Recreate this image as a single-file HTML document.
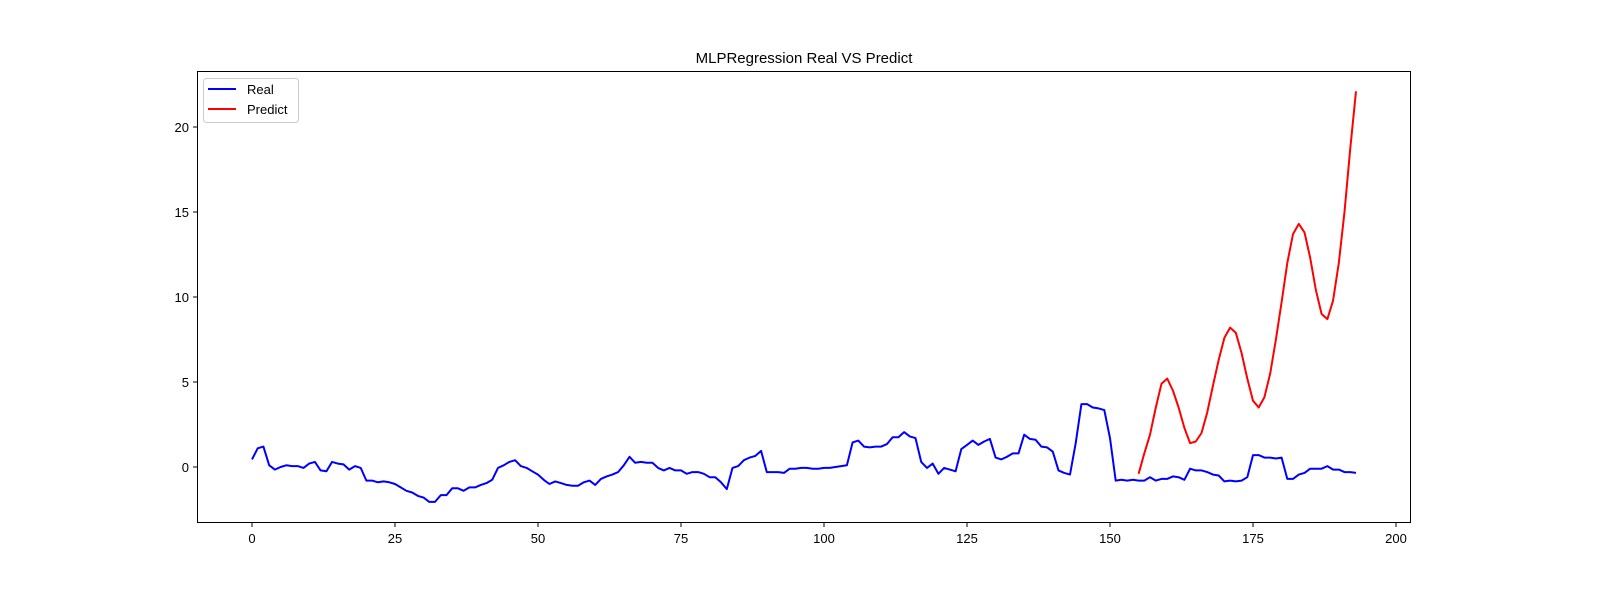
<!DOCTYPE html>
<html><head><meta charset="utf-8"><style>
html,body{margin:0;padding:0;background:#fff;width:1600px;height:600px;overflow:hidden;}
svg{display:block;}
svg text{font-family:"Liberation Sans","DejaVu Sans",sans-serif;}
</style></head><body>
<svg id="chart" width="1600" height="600" xmlns="http://www.w3.org/2000/svg">
<rect width="1600" height="600" fill="#fff"/>
<text x="804" y="63" font-size="15" text-anchor="middle">MLPRegression Real VS Predict</text>
<g id="ticks"></g>
<g id="lines"></g>
<rect x="197.5" y="71.5" width="1213" height="451" fill="none" stroke="#000" stroke-width="1"/>
<g>
<rect x="203.5" y="78.5" width="95" height="44" rx="3" fill="#fff" stroke="#ccc"/>
<line x1="208" y1="89" x2="236" y2="89" stroke="#0000ff" stroke-width="2"/>
<text x="247" y="94" font-size="13">Real</text>
<line x1="208" y1="109" x2="236" y2="109" stroke="#ff0000" stroke-width="2"/>
<text x="247" y="114" font-size="13">Predict</text>
</g>
</svg>
<script>
const realValues=[0.45,1.1,1.2,0.1,-0.15,0,0.1,0.05,0.05,-0.05,0.2,0.3,-0.2,-0.25,0.3,0.2,0.15,-0.15,0.05,-0.05,-0.8,-0.8,-0.9,-0.85,-0.9,-1.0,-1.2,-1.4,-1.5,-1.7,-1.8,-2.05,-2.05,-1.65,-1.65,-1.25,-1.25,-1.4,-1.2,-1.2,-1.05,-0.95,-0.75,-0.05,0.1,0.3,0.4,0.05,-0.05,-0.25,-0.45,-0.75,-1.0,-0.85,-0.95,-1.05,-1.1,-1.1,-0.9,-0.8,-1.05,-0.7,-0.55,-0.45,-0.3,0.1,0.6,0.25,0.3,0.25,0.25,-0.05,-0.2,-0.05,-0.2,-0.2,-0.4,-0.3,-0.3,-0.4,-0.6,-0.6,-0.9,-1.3,-0.05,0.05,0.4,0.55,0.65,0.95,-0.3,-0.3,-0.3,-0.35,-0.1,-0.1,-0.05,-0.05,-0.1,-0.1,-0.05,-0.05,0,0.05,0.1,1.45,1.55,1.2,1.15,1.2,1.2,1.35,1.75,1.75,2.05,1.8,1.7,0.3,-0.05,0.2,-0.4,-0.05,-0.15,-0.25,1.05,1.3,1.55,1.3,1.5,1.65,0.55,0.45,0.6,0.8,0.8,1.9,1.65,1.6,1.2,1.15,0.9,-0.2,-0.35,-0.45,1.4,3.7,3.7,3.5,3.45,3.35,1.7,-0.8,-0.75,-0.8,-0.75,-0.8,-0.8,-0.6,-0.8,-0.7,-0.7,-0.55,-0.6,-0.75,-0.1,-0.2,-0.2,-0.3,-0.45,-0.5,-0.85,-0.8,-0.85,-0.8,-0.6,0.7,0.7,0.55,0.55,0.5,0.55,-0.7,-0.7,-0.45,-0.35,-0.1,-0.1,-0.1,0.05,-0.15,-0.15,-0.3,-0.3,-0.35];
const predictStart=155;
const predictValues=[-0.4,0.8,1.9,3.5,4.9,5.2,4.5,3.5,2.3,1.4,1.5,2.0,3.2,4.8,6.3,7.6,8.2,7.9,6.7,5.2,3.9,3.5,4.1,5.5,7.5,9.7,12.0,13.7,14.3,13.8,12.3,10.4,9.0,8.7,9.8,12.0,15.0,18.7,22.1];
const xTicks=[0,25,50,75,100,125,150,175,200];
const yTicks=[0,5,10,15,20];
const X=v=>252+v*5.72;
const Y=v=>467-v*17;
const NS="http://www.w3.org/2000/svg";
const tg=document.getElementById('ticks');
xTicks.forEach(t=>{
 const l=document.createElementNS(NS,'line');
 l.setAttribute('x1',X(t));l.setAttribute('x2',X(t));l.setAttribute('y1',523);l.setAttribute('y2',527);l.setAttribute('stroke','#000');
 
 
 tg.appendChild(l);
 const tx=document.createElementNS(NS,'text');
 tx.setAttribute('x',X(t));tx.setAttribute('y',543);tx.setAttribute('font-size','13');tx.setAttribute('text-anchor','middle');tx.textContent=t;
 
 
 tg.appendChild(tx);
});
yTicks.forEach(t=>{
 const l=document.createElementNS(NS,'line');
 l.setAttribute('x1',193);l.setAttribute('x2',197);l.setAttribute('y1',Y(t));l.setAttribute('y2',Y(t));l.setAttribute('stroke','#000');
 
 
 tg.appendChild(l);
 const tx=document.createElementNS(NS,'text');
 tx.setAttribute('x',189);tx.setAttribute('y',Y(t)+5);tx.setAttribute('font-size','13');tx.setAttribute('text-anchor','end');tx.textContent=t;
 
 
 tg.appendChild(tx);
});
const lg=document.getElementById('lines');
function line(vals,start,color,name){
 const p=document.createElementNS(NS,'polyline');
 p.setAttribute('points',vals.map((v,i)=>X(i+start).toFixed(1)+','+Y(v).toFixed(1)).join(' '));
 p.setAttribute('fill','none');p.setAttribute('stroke',color);p.setAttribute('stroke-width','2');p.setAttribute('stroke-linejoin','round');
 
 
 lg.appendChild(p);
}
line(realValues,0,'#0000ff','real-line');
line(predictValues,predictStart,'#ff0000','predict-line');
</script>
</body></html>
